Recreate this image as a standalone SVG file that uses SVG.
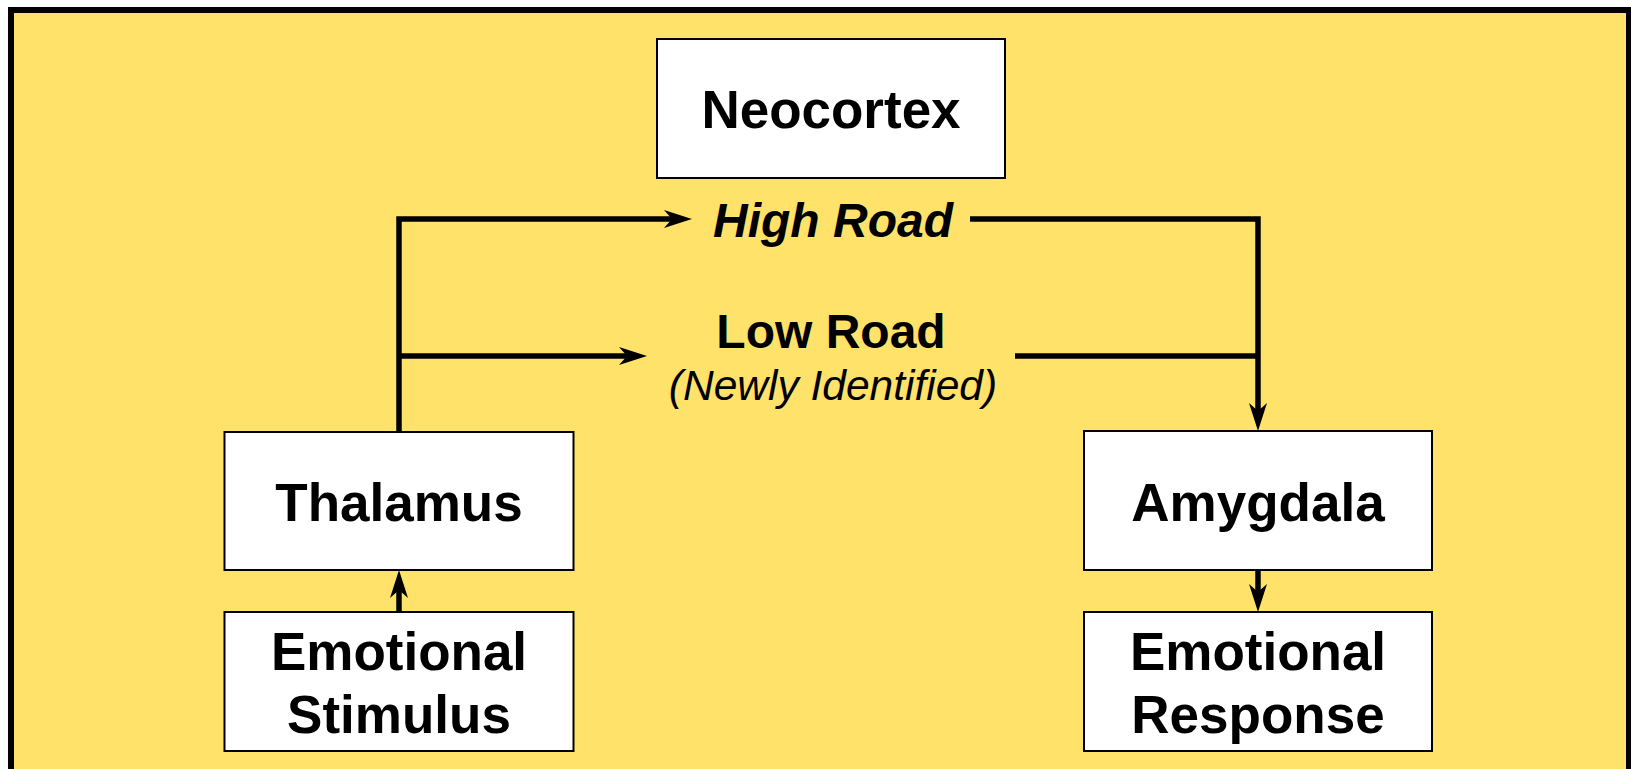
<svg xmlns="http://www.w3.org/2000/svg" width="1631" height="769" viewBox="0 0 1631 769">
  <defs>
    <marker id="arrow" markerUnits="userSpaceOnUse" viewBox="0 -10 30 20" refX="8" refY="0" markerWidth="30" markerHeight="20" orient="auto">
      <path d="M28,0 L0,-9 L8,0 L0,9 Z" fill="#000"/>
    </marker>
    <style>
      .frame { fill: #FFE26A; stroke: #000; stroke-width: 6; }
      .box { fill: #fff; stroke: #000; stroke-width: 2; }
      .label { font-family: "Liberation Sans", Arial, sans-serif; font-weight: bold; font-size: 53px; fill: #000; text-anchor: middle; }
      .road { font-family: "Liberation Sans", Arial, sans-serif; font-weight: bold; font-size: 48px; fill: #000; text-anchor: middle; }
      .note { font-family: "Liberation Sans", Arial, sans-serif; font-style: italic; font-size: 42.5px; fill: #000; text-anchor: middle; }
      .wire { fill: none; stroke: #000; stroke-width: 5.5; stroke-linejoin: miter; stroke-linecap: butt; }
    </style>
  </defs>

  <rect width="1631" height="769" fill="#fff"/>
  <rect class="frame" x="11" y="10" width="1618" height="800"/>

  <!-- pathways -->
  <g id="connectors">
    <path class="wire" d="M399,432 V219 H672" marker-end="url(#arrow)"/>
    <path class="wire" d="M399,356 H627" marker-end="url(#arrow)"/>
    <path class="wire" d="M970,219 H1258 V411" marker-end="url(#arrow)"/>
    <path class="wire" d="M1015,356 H1258"/>
    <path class="wire" d="M399,612 V590" marker-end="url(#arrow)"/>
    <path class="wire" d="M1258,570 V592" marker-end="url(#arrow)"/>
  </g>

  <!-- route labels -->
  <g id="high-road">
    <text class="road" x="833" y="237" font-style="italic">High Road</text>
  </g>
  <g id="low-road">
    <text class="road" x="831" y="348">Low Road</text>
    <text class="note" x="833" y="400">(Newly Identified)</text>
  </g>

  <g id="neocortex">
    <rect class="box" x="657" y="39" width="348" height="139"/>
    <text class="label" x="831" y="128">Neocortex</text>
  </g>

  <g id="thalamus">
    <rect class="box" x="224.5" y="432" width="349" height="138"/>
    <text class="label" x="399" y="521">Thalamus</text>
  </g>

  <g id="stimulus">
    <rect class="box" x="224.5" y="612" width="349" height="139"/>
    <text class="label" x="399" y="670">Emotional</text>
    <text class="label" x="399" y="733">Stimulus</text>
  </g>

  <g id="amygdala">
    <rect class="box" x="1084" y="431" width="348" height="139"/>
    <text class="label" x="1258" y="521">Amygdala</text>
  </g>

  <g id="response">
    <rect class="box" x="1084" y="612" width="348" height="139"/>
    <text class="label" x="1258" y="670">Emotional</text>
    <text class="label" x="1258" y="733">Response</text>
  </g>
</svg>
